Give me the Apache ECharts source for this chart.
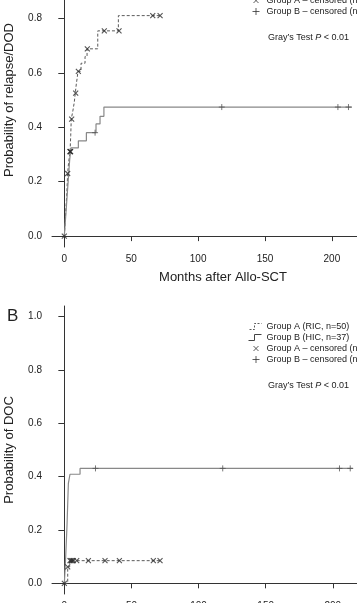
<!DOCTYPE html>
<html>
<head>
<meta charset="utf-8">
<script src="https://cdn.jsdelivr.net/npm/echarts@6/dist/echarts.min.js"></script>
<style>
  html, body { margin: 0; padding: 0; background: #fff; }
  #chart { width: 357px; height: 603px; }
</style>
</head>
<body>
<div id="chart"></div>
<script>
// tick labels
const monthTicks = [0, 50, 100, 150, 200];
const probTicks = [0, 0.2, 0.4, 0.6, 0.8, 1.0];

// legend labels
const nameA = "Group A (RIC, n=50)";
const nameB = "Group B (HIC, n=37)";
const nameAc = "Group A \u2013 censored (n=13)";
const nameBc = "Group B \u2013 censored (n=4)";

// panel A: relapse/DOD  [months, probability]
const relapseA = [[0, 0], [0.6, 0.05], [1.2, 0.10], [1.8, 0.15], [2.5, 0.23], [3.2, 0.27], [4.0, 0.30],
  [4.3, 0.31], [4.8, 0.37], [5.2, 0.43], [6.4, 0.46], [7.4, 0.49], [8.2, 0.525], [9.0, 0.56],
  [9.6, 0.58], [10.2, 0.605], [12.5, 0.635], [15.5, 0.66], [17.0, 0.688], [25, 0.754],
  [40.4, 0.81], [71.6, 0.81]];
const relapseACens = [[0, 0], [2.5, 0.23], [4.2, 0.31], [4.5, 0.31], [4.7, 0.31], [5.5, 0.43],
  [8.5, 0.525], [10.5, 0.605], [17.2, 0.688], [29.9, 0.754], [40.9, 0.754], [66.1, 0.81], [71.6, 0.81]];
const relapseB = [[0, 0], [1, 0.07], [2, 0.14], [3, 0.21], [4, 0.28], [5, 0.324], [10.5, 0.35],
  [16.5, 0.38], [23.7, 0.412], [26.7, 0.44], [29.6, 0.474], [215, 0.474]];
const relapseBCens = [[23, 0.38], [117.7, 0.474], [204.5, 0.474], [212.4, 0.474]];

// panel B: DOC
const docA = [[0, 0], [2.5, 0.062], [4, 0.085], [71.3, 0.085]];
const docACens = [[0, 0], [2.5, 0.062], [4.2, 0.085], [5, 0.085], [5.8, 0.085], [6.7, 0.085], [9.2, 0.085],
  [17.9, 0.085], [30.3, 0.085], [41, 0.085], [66.3, 0.085], [71.3, 0.085]];
const docB = [[0, 0], [1, 0.1], [2, 0.22], [3, 0.375], [4.2, 0.409], [11.7, 0.431], [215, 0.431]];
const docBCens = [[23.2, 0.431], [118, 0.431], [205, 0.431], [213, 0.431]];

const FONT = "'Liberation Sans', Arial, sans-serif";
const AXIS = "#333";
const TEXT = "#222";
const DASH = "#5a5a5a";
const SOLID = "#888";
const CROSS = "path://M0,0L10,10M10,0L0,10";
const PLUS = "path://M5,0L5,10M0,5L10,5";

function xAxisFor(gridIndex) {
  return {
    type: "value", gridIndex, min: -9.2, max: 224,
    name: "Months after Allo-SCT", nameLocation: "middle", nameGap: 24,
    nameTextStyle: { fontSize: 13, color: TEXT, fontFamily: FONT, padding: [0, 0, 0, 30] },
    axisLine: { lineStyle: { color: AXIS, width: 1 } },
    axisTick: { length: 5, customValues: monthTicks, lineStyle: { color: AXIS } },
    axisLabel: { customValues: monthTicks, fontSize: 10, color: TEXT, fontFamily: FONT, margin: 7 },
    splitLine: { show: false },
  };
}
function yAxisFor(gridIndex, name) {
  return {
    type: "value", gridIndex, min: -0.04, max: 1.04,
    name, nameLocation: "middle", nameGap: 36,
    nameTextStyle: { fontSize: 13, color: TEXT, fontFamily: FONT },
    axisLine: { show: true, lineStyle: { color: AXIS, width: 1 } },
    axisTick: { show: true, length: 6, customValues: probTicks, lineStyle: { color: AXIS } },
    axisLabel: {
      customValues: probTicks, fontSize: 10, color: TEXT, fontFamily: FONT, margin: 10,
      formatter: (v) => v.toFixed(1),
    },
    splitLine: { show: false },
  };
}
function seriesFor(i, a, aCens, b, bCens) {
  return [
    { name: nameA, type: "line", xAxisIndex: i, yAxisIndex: i, data: a, step: "end",
      showSymbol: false, symbol: "none", lineStyle: { color: DASH, width: 1, type: [3, 2] },
      itemStyle: { color: DASH }, animation: false },
    { name: nameB, type: "line", xAxisIndex: i, yAxisIndex: i, data: b, step: "end",
      showSymbol: false, symbol: "none", lineStyle: { color: SOLID, width: 1.2 },
      itemStyle: { color: SOLID }, animation: false },
    { name: nameAc, type: "scatter", xAxisIndex: i, yAxisIndex: i, data: aCens, symbol: CROSS,
      symbolSize: 5, itemStyle: { color: "#2a2a2a", borderColor: "#2a2a2a", borderWidth: 1.1 }, z: 5, animation: false },
    { name: nameBc, type: "scatter", xAxisIndex: i, yAxisIndex: i, data: bCens, symbol: PLUS,
      symbolSize: 6, itemStyle: { color: "#555", borderColor: "#555", borderWidth: 1 }, z: 5, animation: false },
  ];
}
function legendFor(top) {
  return {
    orient: "vertical", left: 238, top, itemWidth: 18, itemHeight: 8, itemGap: 1,
    selectedMode: false,
    textStyle: { fontSize: 9, color: TEXT, fontFamily: FONT, lineHeight: 10 },
    data: [
      { name: nameA, icon: "path://M0,0M18,8M6,7L11,7L11,1L18,1",
        itemStyle: { color: "transparent", borderColor: DASH, borderWidth: 1, borderType: [2, 1.5] } },
      { name: nameB, icon: "path://M0,0M18,8M5,7L11,7L11,1L18,1",
        itemStyle: { color: "transparent", borderColor: "#444", borderWidth: 1 } },
      { name: nameAc, icon: "path://M0,0M18,8M10,1.5L15,6.5M15,1.5L10,6.5",
        itemStyle: { color: "transparent", borderColor: "#333", borderWidth: 1 } },
      { name: nameBc, icon: "path://M0,0M18,8M12.5,0.5L12.5,7.5M9,4L16,4",
        itemStyle: { color: "transparent", borderColor: "#333", borderWidth: 1 } },
    ],
  };
}
const grayTest = (top) => ({
  left: 263, top, text: "Gray\u2019s Test {i|P} < 0.01",
  textStyle: {
    fontSize: 9, fontWeight: "normal", color: TEXT, fontFamily: FONT,
    rich: { i: { fontStyle: "italic", fontSize: 9, color: TEXT, fontFamily: FONT } },
  },
});

const chart = echarts.init(document.getElementById("chart"), null, { renderer: "canvas" });
chart.setOption({
  backgroundColor: "#fff",
  animation: false,
  textStyle: { fontFamily: FONT },
  title: [
    grayTest(28),
    grayTest(376),
    { left: 2, top: 303, text: "B", textStyle: { fontSize: 17, fontWeight: "normal", color: TEXT, fontFamily: FONT } },
  ],
  legend: [legendFor(-31.5), legendFor(316.5)],
  grid: [
    { left: 52, top: -47, width: 312, height: 294, containLabel: false, outerBoundsMode: "none" },
    { left: 52, top: 306, width: 313, height: 288, containLabel: false, outerBoundsMode: "none" },
  ],
  xAxis: [xAxisFor(0), xAxisFor(1)],
  yAxis: [yAxisFor(0, "Probability of relapse/DOD"), yAxisFor(1, "Probability of DOC")],
  series: [
    ...seriesFor(0, relapseA, relapseACens, relapseB, relapseBCens),
    ...seriesFor(1, docA, docACens, docB, docBCens),
  ],
});
</script>
</body>
</html>
